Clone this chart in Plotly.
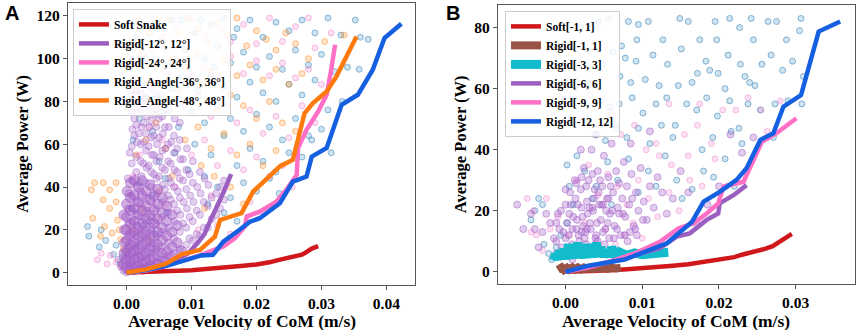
import plotly.graph_objects as go

# ---------------- DATA ----------------
# Shared soft-snake curve (panel A "Soft Snake", panel B "Soft[-1, 1]")
soft_v = [0, 0.002, 0.004, 0.006, 0.008, 0.010, 0.012, 0.014, 0.016, 0.018, 0.020, 0.021, 0.022,
          0.023, 0.024, 0.025, 0.026, 0.027, 0.0275, 0.028, 0.0285, 0.029, 0.0295]
soft_p = [0, 0.1, 0.3, 0.5, 0.8, 1.1, 1.5, 2.0, 2.5, 3.2, 3.8, 4.2, 4.8,
          5.6, 6.2, 6.9, 7.5, 8.4, 9.2, 10.4, 11.2, 11.8, 12.4]

# Panel A curves
r12_v = [0, 0.002, 0.004, 0.006, 0.008, 0.0095, 0.011, 0.012, 0.013, 0.014, 0.015, 0.0161]
r12_p = [0, 0.6, 1.8, 3.8, 6.5, 9.0, 14.0, 18.0, 25.0, 31.0, 38.0, 46.0]

r24_v = [0, 0.003, 0.0056, 0.0085, 0.0113, 0.0149, 0.0167, 0.0182, 0.0185, 0.0205, 0.0231, 0.0246,
         0.0262, 0.0264, 0.0277, 0.0295, 0.0308, 0.0315, 0.0321]
r24_p = [0, 1.0, 2.8, 5.5, 8.0, 12.2, 16.1, 21.5, 26.2, 28.5, 33.2, 38.7,
         45.7, 58.2, 66.7, 75.3, 83.1, 94.8, 106.5]

a36_v = [0, 0.003, 0.006, 0.009, 0.0115, 0.0133, 0.0149, 0.0174, 0.019, 0.0205, 0.0236, 0.0256,
         0.0277, 0.0285, 0.0308, 0.0331, 0.0356, 0.0379, 0.0397, 0.0423]
a36_p = [0, 1.2, 3.0, 5.5, 8.0, 8.3, 14.5, 20.0, 23.8, 25.4, 32.4, 42.5,
         44.9, 54.2, 58.2, 78.4, 83.1, 94.8, 109.6, 116.3]

a48_v = [0, 0.003, 0.006, 0.0085, 0.0113, 0.0136, 0.0144, 0.0177, 0.0195, 0.0215, 0.0236, 0.0256,
         0.0274, 0.0287, 0.0308, 0.0323, 0.0354]
a48_p = [0, 1.5, 4.0, 8.5, 10.6, 16.8, 24.6, 27.8, 37.9, 43.3, 49.6, 52.7,
         74.5, 79.2, 84.6, 91.6, 110.3]

# Panel B curves
b1_v = [-0.0010, -0.0008, -0.0005, -0.0002, 0.0002, 0.0005, 0.0009, 0.0012, 0.0016, 0.002, 0.0024, 0.0028,
        0.0032, 0.0036, 0.004, 0.0045, 0.005, 0.0055, 0.006, 0.0066, 0.0072]
b1_p = [0.6, 1.0, 1.4, 0.6, 1.3, 0.7, 1.4, 0.8, 1.4, 0.8, 1.4, 0.9,
        1.4, 0.9, 1.4, 1.0, 1.4, 1.0, 1.4, 1.1, 1.3]

b3_v = [-0.0015, -0.0013, -0.001, -0.0008, -0.0005, -0.0002, 0.0001, 0.0004, 0.0007, 0.001, 0.0013,
        0.0016, 0.0019, 0.0022, 0.0025, 0.0028, 0.0031, 0.0034, 0.0037, 0.004, 0.0043, 0.0046, 0.005,
        0.0053, 0.0057, 0.006, 0.0065, 0.007, 0.008, 0.009, 0.010, 0.011, 0.012, 0.0134]
b3_p = [3.8, 6.0, 4.0, 7.0, 4.2, 7.5, 4.2, 9.0, 4.4, 8.0, 4.5,
        9.5, 4.6, 7.5, 4.6, 9.0, 4.8, 8.0, 4.8, 9.5, 5.0, 8.0, 5.0,
        7.0, 5.0, 8.0, 5.2, 6.5, 5.4, 6.2, 5.6, 5.8, 6.0, 6.4]

b6_v = [0, 0.003, 0.006, 0.009, 0.0123, 0.0145, 0.0162, 0.0184, 0.0199, 0.0201, 0.0219, 0.0236]
b6_p = [0, 1.5, 3.5, 5.5, 7.7, 11.5, 12.6, 17.0, 19.1, 22.4, 25.1, 28.4]

b9_v = [0, 0.003, 0.006, 0.009, 0.0123, 0.0147, 0.0167, 0.0184, 0.0199, 0.0206, 0.0232, 0.0256, 0.0275, 0.0301]
b9_p = [0, 1.5, 3.5, 6.0, 9.8, 14.2, 15.9, 19.1, 22.4, 27.9, 29.5, 42.6, 45.4, 50.3]

b12_v = [0, 0.003, 0.0077, 0.011, 0.0132, 0.0165, 0.018, 0.0201, 0.0223, 0.0236, 0.0254, 0.0271,
         0.0284, 0.0307, 0.0330, 0.0358]
b12_p = [0, 2.0, 4.0, 7.0, 9.3, 16.4, 23.0, 26.2, 30.1, 33.9, 43.2, 45.4,
         54.1, 57.9, 78.7, 82.0]

# Panel A scatter clouds (velocity, power)
a_blue_pts = [
    (0.0085, 118), (0.0105, 112), (0.0130, 116), (0.0150, 119), (0.0170, 114), (0.0190, 118), (0.0210, 110),
    (0.0230, 117), (0.0250, 113), (0.0270, 118), (0.0290, 112), (0.0310, 119), (0.0330, 111), (0.0352, 118),
    (0.0360, 110), (0.0372, 109), (0.0090, 104), (0.0120, 100), (0.0140, 106), (0.0160, 98), (0.0180, 103),
    (0.0200, 96), (0.0220, 101), (0.0240, 95), (0.0260, 104), (0.0280, 97), (0.0300, 102), (0.0320, 94),
    (0.0340, 96), (0.0358, 95), (0.0095, 90), (0.0110, 85), (0.0130, 92), (0.0150, 87), (0.0170, 82),
    (0.0190, 89), (0.0210, 84), (0.0230, 80), (0.0250, 88), (0.0270, 83), (0.0290, 90), (0.0310, 76),
    (0.0332, 80), (0.0100, 75), (0.0120, 70), (0.0140, 78), (0.0160, 72), (0.0180, 66), (0.0200, 74),
    (0.0220, 68), (0.0240, 62), (0.0260, 72), (0.0280, 64), (0.0300, 67), (0.0315, 56), (0.0105, 60),
    (0.0130, 55), (0.0150, 64), (0.0170, 50), (0.0190, 58), (0.0210, 52), (0.0230, 47), (0.0250, 56),
    (0.0270, 54), (0.0285, 62), (0.0120, 45), (0.0140, 40), (0.0160, 35), (0.0180, 42), (0.0200, 38),
    (0.0220, 44), (0.0235, 37), (0.0150, 28), (0.0170, 24), (0.0125, 32), (0.0095, 48),
    (0.0010, 62), (0.0020, 72), (0.0030, 82), (0.0040, 66), (0.0050, 52), (0.0060, 76), (0.0070, 86),
    (0.0080, 68), (0.0020, 42), (0.0040, 36), (0.0060, 44), (0.0075, 56), (0.0035, 24), (0.0025, 22),
    (0.0045, 18), (0.0062, 28), (0.0015, 12), (0.0008, 30), (0.0030, 100), (0.0055, 108), (0.0070, 118),
    (0.0045, 114), (0.0015, 110), (0.0065, 98), (0.0085, 92), (0.0115, 118), (0.0135, 96), (0.0165, 110),
    (-0.0060, 21.5), (-0.0058, 17), (-0.0039, 20), (-0.0032, 15), (-0.0042, 12), (-0.0016, 12.8),
    (-0.0020, 8.5), (-0.0007, 7), (-0.0001, 10), (-0.0010, 4),
]
a_orange_pts = [
    (0.0020, 118), (0.0035, 112), (0.0050, 119), (0.0065, 118), (0.0080, 112), (0.0095, 119), (0.0110, 114),
    (0.0125, 108), (0.0140, 117), (0.0155, 111), (0.0170, 119), (0.0185, 106), (0.0200, 113), (0.0215, 109),
    (0.0230, 104), (0.0245, 112), (0.0260, 107), (0.0280, 100), (0.0305, 108), (0.0335, 111),
    (0.0025, 102), (0.0045, 96), (0.0070, 100), (0.0090, 96), (0.0110, 102), (0.0130, 94), (0.0150, 99),
    (0.0170, 92), (0.0190, 97), (0.0210, 90), (0.0230, 95), (0.0250, 88), (0.0270, 93),
    (0.0080, 85), (0.0100, 80), (0.0120, 88), (0.0140, 76), (0.0160, 83), (0.0180, 78), (0.0200, 72),
    (0.0220, 80), (0.0240, 70), (0.0260, 66), (0.0090, 62), (0.0110, 68), (0.0130, 58), (0.0150, 65),
    (0.0170, 55), (0.0190, 60), (0.0210, 50), (0.0230, 57), (0.0180, 32), (0.0160, 40), (0.0135, 45),
    (0.0115, 50), (0.0120, 30), (0.0015, 55), (0.0030, 62), (0.0045, 70), (0.0060, 58), (0.0025, 30),
    (0.0050, 38), (0.0070, 45), (0.0010, 20), (0.0035, 15), (0.0012, 85), (0.0040, 88),
    (-0.0049, 42), (-0.0036, 42), (-0.0016, 42), (-0.0054, 38.7), (-0.0026, 38.7), (-0.0036, 34),
    (-0.0016, 33), (-0.0026, 30), (-0.0052, 25.4), (-0.0014, 24.5), (-0.0034, 21.5), (-0.0011, 20),
    (-0.0022, 18.5), (-0.0040, 17), (-0.0009, 15.5), (-0.0005, 11),
]
a_pink_pts = [
    (0.0030, 116), (0.0055, 110), (0.0075, 116), (0.0100, 119), (0.0120, 111), (0.0145, 114), (0.0160, 108),
    (0.0180, 116), (0.0200, 107), (0.0220, 119), (0.0240, 108), (0.0260, 115), (0.0280, 119), (0.0290, 105),
    (0.0315, 112), (0.0015, 98), (0.0040, 104), (0.0060, 94), (0.0080, 98), (0.0100, 92), (0.0120, 96),
    (0.0140, 90), (0.0160, 101), (0.0180, 93), (0.0200, 99), (0.0220, 92), (0.0240, 98), (0.0260, 91),
    (0.0280, 95), (0.0300, 88), (0.0090, 78), (0.0110, 82), (0.0130, 73), (0.0150, 79), (0.0170, 70),
    (0.0190, 76), (0.0210, 65), (0.0230, 73), (0.0250, 63), (0.0270, 78), (0.0290, 70), (0.0100, 55),
    (0.0120, 62), (0.0140, 50), (0.0160, 57), (0.0180, 48), (0.0200, 54), (0.0220, 45), (0.0240, 50),
    (0.0255, 40), (0.0140, 22), (0.0160, 18), (0.0130, 36), (0.0190, 33), (0.0210, 28), (0.0110, 20),
    (0.0010, 45), (0.0020, 55), (0.0035, 68), (0.0050, 78), (0.0065, 88), (0.0045, 25), (0.0060, 32),
    (0.0075, 40), (0.0025, 80), (0.0055, 62),
    (-0.0039, 9), (-0.0025, 8), (-0.0030, 4), (-0.0016, 5), (-0.0009, 2.5), (-0.0045, 6),
]
# dense core of the Rigid[-12°, 12°] cloud near the origin
a_purple_core_pts = [
    (0.0000, 2), (0.0000, 6), (0.0000, 10), (0.0000, 15), (0.0000, 20), (0.0000, 26), (0.0000, 32), (0.0001, 38),
    (-0.0004, 4), (-0.0004, 9), (-0.0003, 14), (-0.0003, 20), (-0.0004, 27),
    (0.0006, 1.5), (0.0006, 5), (0.0006, 9), (0.0006, 13), (0.0006, 18), (0.0006, 23), (0.0006, 29), (0.0006, 35),
    (0.0006, 42), (0.0012, 2), (0.0012, 6), (0.0012, 10), (0.0012, 14), (0.0012, 19), (0.0012, 24), (0.0012, 30),
    (0.0012, 36), (0.0012, 43), (0.0018, 3), (0.0018, 7), (0.0018, 11), (0.0018, 16), (0.0018, 21), (0.0018, 27),
    (0.0018, 33), (0.0018, 40), (0.0024, 1.5), (0.0024, 4), (0.0024, 8), (0.0024, 13), (0.0024, 18), (0.0024, 23),
    (0.0024, 29), (0.0024, 36), (0.0024, 43), (0.0030, 5), (0.0030, 9), (0.0030, 14), (0.0030, 19), (0.0030, 25),
    (0.0030, 31), (0.0030, 38), (0.0036, 3), (0.0036, 6), (0.0036, 11), (0.0036, 16), (0.0036, 21), (0.0036, 27),
    (0.0036, 34), (0.0036, 41), (0.0042, 7), (0.0042, 12), (0.0042, 17), (0.0042, 23), (0.0042, 29), (0.0042, 36),
    (0.0048, 4), (0.0048, 8), (0.0048, 13), (0.0048, 19), (0.0048, 25), (0.0048, 32), (0.0048, 39),
    (0.0055, 9), (0.0055, 15), (0.0055, 21), (0.0055, 28), (0.0055, 35), (0.0060, 5.5), (0.0062, 10),
    (0.0062, 17), (0.0062, 24), (0.0062, 31), (0.0070, 7.5), (0.0070, 12), (0.0070, 19), (0.0070, 27),
    (0.0078, 14), (0.0078, 22), (0.0085, 10),
]
a_purple_pts = [
    (0.0003, 1), (0.0003, 4), (0.0002, 8), (0.0003, 12), (0.0002, 17), (0.0003, 23), (0.0002, 30), (0.0003, 37),
    (0.0002, 44), (0.0008, 2), (0.0008, 5), (0.0009, 9), (0.0008, 13), (0.0008, 18), (0.0009, 24), (0.0008, 30),
    (0.0008, 36), (0.0009, 43), (0.0008, 51), (0.0008, 59), (0.0009, 67), (0.0008, 75), (0.0008, 83), (0.0009, 90),
    (0.0015, 1), (0.0015, 4), (0.0016, 8), (0.0015, 12), (0.0015, 17), (0.0016, 22), (0.0015, 27), (0.0015, 33),
    (0.0016, 40), (0.0015, 47), (0.0015, 54), (0.0016, 61), (0.0015, 69), (0.0015, 77), (0.0016, 85),
    (0.0022, 2), (0.0022, 6), (0.0023, 10), (0.0022, 15), (0.0022, 20), (0.0023, 26), (0.0022, 32), (0.0022, 38),
    (0.0023, 45), (0.0022, 52), (0.0022, 60), (0.0023, 68), (0.0022, 76), (0.0022, 84),
    (0.0030, 3), (0.0030, 7), (0.0031, 12), (0.0030, 17), (0.0030, 23), (0.0031, 29), (0.0030, 35), (0.0030, 42),
    (0.0031, 49), (0.0030, 57), (0.0030, 65), (0.0031, 73), (0.0030, 81), (0.0030, 88),
    (0.0038, 4), (0.0038, 9), (0.0039, 14), (0.0038, 20), (0.0038, 26), (0.0039, 33), (0.0038, 40), (0.0038, 47),
    (0.0039, 55), (0.0038, 63), (0.0038, 71), (0.0039, 79), (0.0038, 86),
    (0.0046, 5), (0.0046, 11), (0.0047, 17), (0.0046, 23), (0.0046, 30), (0.0047, 37), (0.0046, 44), (0.0046, 52),
    (0.0047, 60), (0.0046, 68), (0.0046, 76), (0.0047, 83),
    (0.0055, 6), (0.0055, 12), (0.0056, 19), (0.0055, 26), (0.0055, 33), (0.0056, 41), (0.0055, 49), (0.0055, 57),
    (0.0056, 65), (0.0055, 73), (0.0055, 81),
    (0.0064, 8), (0.0064, 14), (0.0065, 21), (0.0064, 28), (0.0064, 36), (0.0065, 44), (0.0064, 52), (0.0064, 60),
    (0.0065, 68), (0.0064, 76), (0.0073, 9), (0.0073, 16), (0.0074, 24), (0.0073, 32), (0.0073, 40), (0.0074, 48),
    (0.0073, 56), (0.0073, 64), (0.0074, 72), (0.0082, 11), (0.0082, 19), (0.0083, 27), (0.0082, 35), (0.0082, 44),
    (0.0083, 53), (0.0082, 62), (0.0082, 70), (0.0092, 13), (0.0092, 21), (0.0093, 30), (0.0092, 39), (0.0092, 48),
    (0.0093, 58), (0.0102, 15), (0.0102, 24), (0.0103, 33), (0.0102, 42), (0.0102, 52), (0.0113, 17), (0.0113, 27),
    (0.0114, 37), (0.0113, 47), (0.0125, 21), (0.0125, 31), (0.0126, 41), (0.0138, 27), (0.0138, 37), (0.0150, 34),
    (0.0150, 43), (-0.0008, 3), (-0.0005, 1), (-0.0012, 6), (-0.0004, 6), (0.0000, 0), (0.0011, 0.5), (0.0019, 1.5),
    (0.0027, 2), (0.0035, 2.5), (0.0043, 3), (0.0051, 4), (0.0060, 5),
    (0.0005, 56), (0.0012, 64), (0.0012, 72), (0.0013, 80), (0.0019, 65), (0.0019, 80), (0.0026, 51), (0.0027, 61),
    (0.0026, 70), (0.0034, 50), (0.0034, 59), (0.0035, 68), (0.0034, 77), (0.0042, 46), (0.0042, 55), (0.0042, 64),
    (0.0043, 74), (0.0050, 45), (0.0051, 54), (0.0050, 63), (0.0050, 72), (0.0059, 39), (0.0059, 48), (0.0060, 58),
    (0.0059, 68), (0.0068, 34), (0.0068, 42), (0.0068, 51), (0.0069, 61), (0.0078, 29), (0.0079, 38), (0.0078, 47),
    (0.0078, 58), (0.0087, 23), (0.0088, 33), (0.0087, 43), (0.0087, 53), (0.0097, 16), (0.0097, 26), (0.0098, 36),
    (0.0097, 46), (0.0108, 18), (0.0108, 29), (0.0109, 40), (0.0119, 21), (0.0119, 33), (0.0120, 44),
    (0.0131, 25), (0.0131, 35), (0.0144, 30), (0.0144, 40),
]

# Panel B scatter clouds (velocity, power)
b_blue_pts = [
    (0.0043, 82), (0.0056, 83), (0.0082, 82), (0.0095, 81), (0.0108, 82), (0.0127, 76), (0.0149, 83), (0.0160, 82),
    (0.0195, 82), (0.0214, 83), (0.0227, 80), (0.0242, 83), (0.0264, 82), (0.0275, 82), (0.0307, 83), (0.0305, 79),
    (0.0093, 76), (0.0175, 76), (0.0197, 76), (0.0245, 76), (0.0288, 76), (0.0073, 74), (0.0035, 80),
    (0.0062, 72), (0.0078, 70), (0.0092, 69), (0.0114, 71), (0.0133, 68), (0.0151, 73), (0.0172, 65), (0.0183, 69),
    (0.0199, 65), (0.0212, 71), (0.0228, 68), (0.0240, 62), (0.0256, 68), (0.0268, 71), (0.0283, 66), (0.0296, 69),
    (0.0310, 64), (0.0071, 64), (0.0085, 62), (0.0104, 63), (0.0122, 61), (0.0147, 61), (0.0165, 62), (0.0188, 66),
    (0.0208, 60), (0.0234, 64), (0.0247, 61), (0.0030, 62), (0.0048, 68),
    (0.0045, 56), (0.0058, 54), (0.0070, 55), (0.0087, 57), (0.0101, 52), (0.0118, 55), (0.0132, 57), (0.0143, 48),
    (0.0158, 55), (0.0171, 53), (0.0184, 57), (0.0198, 51), (0.0214, 56), (0.0226, 47), (0.0238, 55), (0.0254, 53),
    (0.0273, 55), (0.0290, 56), (0.0308, 55), (0.0271, 44), (0.0030, 50), (0.0038, 45), (0.0052, 43), (0.0066, 47),
    (0.0080, 44), (0.0095, 47), (0.0110, 42), (0.0125, 48), (0.0140, 44), (0.0178, 40), (0.0192, 44), (0.0216, 46),
    (0.0230, 42), (0.0015, 38), (0.0025, 33), (0.0040, 28), (0.0055, 36), (0.0068, 30), (0.0082, 37), (0.0095, 26),
    (0.0108, 33), (0.0118, 28), (0.0130, 38), (0.0145, 30), (0.0152, 24), (0.0165, 27), (0.0180, 33), (0.0193, 31),
    (0.0208, 37), (0.0220, 28), (0.0005, 28), (0.0010, 22), (0.0035, 24), (0.0060, 22),
    (-0.0035, 24), (-0.0030, 22), (-0.0045, 17), (-0.0028, 9), (-0.0022, 6), (-0.0018, 4), (-0.0012, 8),
    (-0.0006, 12), (0.0002, 16), (-0.0040, 20), (0.0002, 35),
]
b_pink_pts = [
    (0.0022, 50), (0.0032, 58), (0.0045, 48), (0.0058, 52), (0.0072, 45), (0.0090, 48), (0.0105, 40), (0.0122, 38),
    (0.0138, 35), (0.0155, 45), (0.0172, 48), (0.0190, 42), (0.0205, 53), (0.0222, 53), (0.0238, 57), (0.0255, 53),
    (0.0280, 56), (0.0263, 46), (0.0175, 55), (0.0135, 55), (0.0015, 30), (0.0030, 35), (0.0042, 25), (0.0055, 32),
    (0.0068, 28), (0.0080, 22), (0.0095, 30), (0.0108, 24), (0.0120, 18), (0.0135, 26), (0.0148, 20), (0.0162, 30),
    (0.0178, 28), (0.0195, 37), (0.0210, 28), (-0.0050, 24), (-0.0042, 20), (-0.0038, 12), (-0.0030, 7),
    (-0.0020, 14), (-0.0010, 18), (0.0005, 12), (0.0015, 8), (0.0025, 16), (0.0040, 10), (0.0052, 14), (0.0065, 9),
    (0.0078, 12), (0.0088, 16), (0.0100, 11), (-0.0025, 24), (-0.0045, 13), (0.0118, 42), (0.0160, 38),
]
b_purple_pts = [
    (-0.0063, 22), (-0.0055, 14), (-0.0045, 19), (-0.0040, 14), (-0.0035, 8), (-0.0030, 13), (-0.0025, 19),
    (-0.0020, 16), (-0.0015, 11), (-0.0010, 19), (-0.0008, 14), (-0.0005, 8), (0.0000, 22), (0.0002, 16),
    (0.0004, 12), (0.0006, 26), (0.0008, 9), (0.0010, 18), (0.0012, 30), (0.0014, 14), (0.0016, 22), (0.0018, 10),
    (0.0020, 27), (0.0022, 18), (0.0024, 34), (0.0026, 13), (0.0028, 23), (0.0030, 30), (0.0032, 16), (0.0034, 40),
    (0.0036, 20), (0.0038, 27), (0.0040, 12), (0.0042, 33), (0.0044, 22), (0.0046, 17), (0.0048, 28), (0.0050, 38),
    (0.0052, 14), (0.0054, 24), (0.0056, 31), (0.0058, 19), (0.0060, 42), (0.0062, 26), (0.0064, 15), (0.0066, 33),
    (0.0068, 21), (0.0070, 29), (0.0072, 12), (0.0074, 24), (0.0076, 36), (0.0078, 18), (0.0080, 28), (0.0083, 22),
    (0.0086, 32), (0.0089, 15), (0.0092, 26), (0.0095, 20), (0.0098, 34), (0.0102, 23), (0.0106, 17), (0.0110, 28),
    (0.0115, 21), (0.0120, 31), (0.0126, 26), (0.0132, 19), (0.0140, 24), (0.0150, 33), (0.0160, 26), (0.0170, 16),
    (0.0185, 22), (0.0200, 28), (0.0215, 45), (0.0230, 39), (0.0245, 44), (0.0110, 46), (0.0085, 42), (0.0065, 48),
    (0.0040, 45), (0.0020, 40), (0.0003, 6), (0.0011, 8), (0.0019, 7), (0.0027, 9), (0.0035, 8), (0.0043, 7),
    (0.0051, 9), (0.0009, 4), (0.0017, 12), (0.0025, 11), (0.0033, 14), (0.0041, 16), (0.0049, 13), (0.0057, 11),
    (0.0013, 24), (0.0021, 21), (0.0029, 19), (0.0037, 24), (0.0045, 30), (0.0053, 20),
    (-0.0012, 10), (-0.0003, 13), (0.0005, 19), (0.0009, 14), (0.0015, 17), (0.0023, 15), (0.0031, 21),
    (0.0039, 11), (0.0047, 22), (0.0055, 16), (0.0061, 20), (0.0067, 14), (0.0075, 19), (0.0081, 10),
    (0.0087, 24), (0.0093, 12), (0.0101, 17), (0.0027, 28), (0.0035, 32), (0.0043, 26), (0.0059, 28),
    (-0.0012, 6), (-0.0012, 16), (-0.0006, 5), (-0.0006, 20), (0.0000, 11), (0.0000, 27), (0.0007, 7),
    (0.0007, 22), (0.0014, 8), (0.0014, 29), (0.0021, 13), (0.0021, 31), (0.0028, 14), (0.0035, 21),
    (0.0042, 10), (0.0049, 22), (0.0056, 24), (0.0063, 11), (0.0070, 19), (0.0077, 12), (0.0084, 13), (0.0091, 14),
]

x_ticks_a = [0.00, 0.01, 0.02, 0.03, 0.04]
x_ticks_b = [0.00, 0.01, 0.02, 0.03]
y_ticks_a = [0, 20, 40, 60, 80, 100, 120]
y_ticks_b = [0, 20, 40, 60, 80]
x_title = "Average Velocity of CoM (m/s)"
y_title = "Average Power (W)"

# ---------------- STYLE ----------------
RED = "#d0181c"
PURPLE = "#9a5fc0"
PINK = "#ff6fc6"
BLUE = "#1560e0"
ORANGE = "#ff7a0e"
BROWN = "#9a5446"
CYAN = "#12bccc"

SC_BLUE = (31, 119, 180)
SC_ORANGE = (255, 127, 14)
SC_PINK = (240, 120, 200)
SC_PURPLE = (163, 95, 200)

SERIF = "Liberation Serif"

fig = go.Figure()


def cloud(pts, rgb, xa, ya, size=6, fa=0.22, la=0.45):
    r, g, b = rgb
    fig.add_trace(go.Scatter(
        x=[p[0] for p in pts], y=[p[1] for p in pts], mode="markers",
        xaxis=xa, yaxis=ya, showlegend=False, hoverinfo="skip",
        marker=dict(size=size, color=f"rgba({r},{g},{b},{fa})",
                    line=dict(color=f"rgba({r},{g},{b},{la})", width=1))))


def curve(xv, yv, color, name, xa, ya, legend, width=4.5):
    fig.add_trace(go.Scatter(
        x=xv, y=yv, mode="lines", name=name, xaxis=xa, yaxis=ya, legend=legend,
        line=dict(color=color, width=width)))


# Panel A
cloud(a_blue_pts, SC_BLUE, "x", "y")
cloud(a_orange_pts, SC_ORANGE, "x", "y")
cloud(a_pink_pts, SC_PINK, "x", "y")
cloud(a_purple_pts, SC_PURPLE, "x", "y", size=7, fa=0.3, la=0.4)
cloud(a_purple_core_pts, SC_PURPLE, "x", "y", size=10, fa=0.5, la=0.5)
curve(soft_v, soft_p, RED, "Soft Snake", "x", "y", "legend")
curve(r12_v, r12_p, PURPLE, "Rigid[-12°, 12°]", "x", "y", "legend")
curve(r24_v, r24_p, PINK, "Rigid[-24°, 24°]", "x", "y", "legend")
curve(a36_v, a36_p, BLUE, "Rigid_Angle[-36°, 36°]", "x", "y", "legend")
curve(a48_v, a48_p, ORANGE, "Rigid_Angle[-48°, 48°]", "x", "y", "legend")

# Panel B
cloud(b_blue_pts, SC_BLUE, "x2", "y2", fa=0.2, la=0.5)
cloud(b_pink_pts, SC_PINK, "x2", "y2", fa=0.22, la=0.4)
cloud(b_purple_pts, SC_PURPLE, "x2", "y2", size=7, fa=0.32, la=0.5)
curve(soft_v, soft_p, RED, "Soft[-1, 1]", "x2", "y2", "legend2")
curve(b1_v, b1_p, BROWN, "Rigid[-1, 1]", "x2", "y2", "legend2", width=8)
curve(b3_v, b3_p, CYAN, "Rigid[-3, 3]", "x2", "y2", "legend2", width=9)
curve(b6_v, b6_p, PURPLE, "Rigid[-6, 6]", "x2", "y2", "legend2")
curve(b9_v, b9_p, PINK, "Rigid[-9, 9]", "x2", "y2", "legend2")
curve(b12_v, b12_p, BLUE, "Rigid[-12, 12]", "x2", "y2", "legend2")

tickfont = dict(family=SERIF, size=15.5, color="black", weight="bold")
xtitlefont = dict(family=SERIF, size=17.5, color="black", weight="bold")
ytitlefont = dict(family=SERIF, size=16.5, color="black", weight="bold")
ax_common = dict(showline=True, mirror=True, linecolor="#555", linewidth=1.2, ticks="outside",
                 ticklen=4, tickcolor="#555", showgrid=False, zeroline=False, tickfont=tickfont,
                 automargin=False)
legfont = dict(family=SERIF, size=11.5, color="black", weight="bold")

fig.update_layout(
    width=858, height=330, margin=dict(l=0, r=0, t=0, b=0),
    paper_bgcolor="white", plot_bgcolor="white",
    xaxis=dict(domain=[0.0793, 0.4837], range=[-0.009, 0.0444], anchor="y",
               tickvals=x_ticks_a, ticktext=[f"{v:.2f}" for v in x_ticks_a], **ax_common),
    yaxis=dict(domain=[0.1364, 0.9909], range=[-5.8, 126], anchor="x", tickvals=y_ticks_a,
               title=dict(text=y_title, font=ytitlefont, standoff=3), **ax_common),
    xaxis2=dict(domain=[0.5804, 0.9962], range=[-0.0088, 0.0377], anchor="y2",
                tickvals=x_ticks_b, ticktext=[f"{v:.2f}" for v in x_ticks_b], **ax_common),
    yaxis2=dict(domain=[0.1394, 0.9858], range=[-4.0, 87.5], anchor="x2", tickvals=y_ticks_b,
                title=dict(text=y_title, font=ytitlefont, standoff=3), **ax_common),
    legend=dict(x=0.085, y=0.973, xanchor="left", yanchor="top", bgcolor="rgba(255,255,255,0.85)",
                bordercolor="#ccc", borderwidth=1, font=legfont, itemwidth=30, tracegroupgap=0),
    legend2=dict(x=0.5886, y=0.967, xanchor="left", yanchor="top", bgcolor="rgba(255,255,255,0.85)",
                 bordercolor="#ccc", borderwidth=1, font=legfont, itemwidth=30, tracegroupgap=0),
    annotations=[
        dict(text="<b>A</b>", x=0.004, y=0.962, xref="paper", yref="paper", xanchor="left", yanchor="middle",
             showarrow=False, font=dict(family="Liberation Sans", size=20, color="black")),
        dict(text="<b>B</b>", x=0.517, y=0.962, xref="paper", yref="paper", xanchor="left", yanchor="middle",
             showarrow=False, font=dict(family="Liberation Sans", size=20, color="black")),
        dict(text=x_title, x=0.2815, y=0.027, xref="paper", yref="paper", xanchor="center", yanchor="middle",
             showarrow=False, font=xtitlefont),
        dict(text=x_title, x=0.7883, y=0.027, xref="paper", yref="paper", xanchor="center", yanchor="middle",
             showarrow=False, font=xtitlefont),
    ],
)

fig.write_html("out.html", config={"displayModeBar": False},
               post_script="document.body.style.margin='0px';")
